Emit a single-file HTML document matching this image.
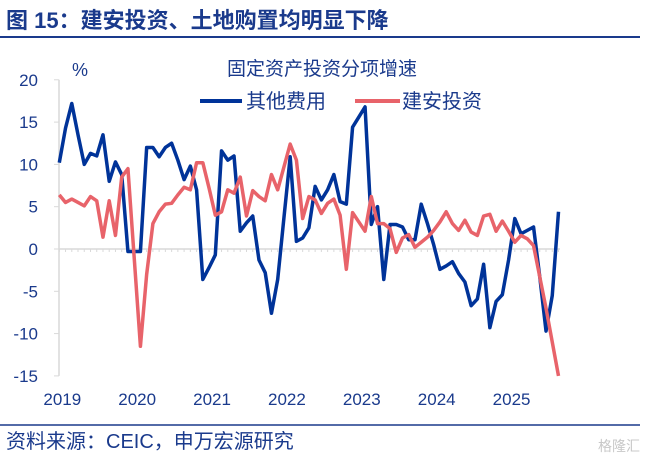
<!DOCTYPE html>
<html><head><meta charset="utf-8"><style>
body{margin:0;width:652px;height:463px;background:#fff;overflow:hidden;font-family:"Liberation Sans","Noto Sans CJK SC",sans-serif}
</style></head><body>
<svg width="652" height="463" style="font-family:'Liberation Sans','Noto Sans CJK SC',sans-serif">
<text x="6" y="28" font-size="22" font-weight="bold" fill="#1a3a8c">图 15：建安投资、土地购置均明显下降</text>
<line x1="0" y1="37" x2="640" y2="37" stroke="#1a3a8c" stroke-width="2"/>
<text x="322" y="75" font-size="19" fill="#1a3a8c" text-anchor="middle">固定资产投资分项增速</text>
<text x="80" y="76" font-size="18" fill="#1a3a8c" text-anchor="middle">%</text>
<g>
<line x1="200" y1="101" x2="242" y2="101" stroke="#003399" stroke-width="4"/>
<text x="246" y="108" font-size="20" fill="#1a3a8c">其他费用</text>
<line x1="355" y1="101" x2="400" y2="101" stroke="#e8636a" stroke-width="4"/>
<text x="402" y="108" font-size="20" fill="#1a3a8c">建安投资</text>
</g>
<g id="axes"></g>
<g id="series"></g>
<line x1="0" y1="425" x2="640" y2="425" stroke="#1a3a8c" stroke-width="1.5"/>
<text x="6" y="448" font-size="20" fill="#1a3a8c">资料来源：CEIC，申万宏源研究</text>
<text x="598" y="451" font-size="14" fill="#c8c8c8">格隆汇</text>
</svg>
<script>
const yTicks=[20,15,10,5,0,-5,-10,-15];
const years=["2019","2020","2021","2022","2023","2024","2025"];
const otherCost=[10.2,14.3,17.2,13.5,10.0,11.3,11.0,13.5,8.0,10.3,8.8,-0.3,-0.3,-0.3,12.0,12.0,10.9,12.0,12.5,10.5,8.2,9.8,7.0,-3.6,-2.2,-0.7,11.6,10.5,11.0,2.1,3.1,3.9,-1.3,-2.8,-7.6,-3.6,3.7,10.9,0.9,1.3,2.5,7.4,5.8,7.0,8.8,5.6,5.3,14.4,15.6,16.8,2.9,5.0,-3.6,2.9,2.9,2.6,1.1,1.1,5.3,3.0,0.5,-2.4,-2.0,-1.5,-2.9,-3.9,-6.7,-5.9,-1.8,-9.3,-6.2,-5.4,-1.3,3.6,1.8,2.2,2.6,-3.3,-9.7,-5.5,4.4];
const construction=[6.4,5.5,5.9,5.5,5.1,6.2,5.7,1.4,5.7,1.6,8.5,9.5,-1.0,-11.5,-3.0,3.0,4.4,5.3,5.4,6.4,7.3,7.0,10.2,10.2,7.2,4.0,4.4,7.0,6.6,8.5,3.9,6.9,6.2,5.7,8.8,7.0,9.7,12.4,10.5,3.6,6.2,5.8,4.2,5.4,5.9,4.0,-2.4,4.3,3.2,2.1,6.2,3.0,3.0,2.4,-0.4,1.3,1.7,0.2,0.8,1.4,2.2,3.2,4.4,3.0,2.2,3.4,2.0,1.6,3.9,4.1,2.1,3.3,2.1,0.8,1.6,1.2,0.4,-3.3,-7.0,-11.0,-15.0];
const NS="http://www.w3.org/2000/svg";
const y=v=>249-v*8.46;
const x=i=>59.3+i*6.24;
const axes=document.getElementById('axes'),series=document.getElementById('series');
function mk(t,a,p){const e=document.createElementNS(NS,t);for(const k in a)e.setAttribute(k,a[k]);p.appendChild(e);return e;}
const ax=mk('line',{x1:59,y1:y(20),x2:59,y2:y(-15),stroke:'#d9d9d9','stroke-width':1.5},axes);


const zl=mk('line',{x1:59,y1:y(0),x2:560,y2:y(0),stroke:'#d9d9d9','stroke-width':1.5},axes);


for(let i=0;i<81;i++){const t=mk('line',{x1:x(i),y1:y(0),x2:x(i),y2:y(0)+3,stroke:'#d9d9d9'},axes);

}
yTicks.forEach(v=>{const t=mk('line',{x1:54,y1:y(v),x2:59,y2:y(v),stroke:'#d9d9d9'},axes);


const l=mk('text',{x:38,y:y(v)+6,'font-size':17,fill:'#1a3a8c','text-anchor':'end'},axes);l.textContent=v;

});
years.forEach((yr,k)=>{const l=mk('text',{x:x(k*12)+3,y:405,'font-size':17,fill:'#1a3a8c','text-anchor':'middle'},axes);l.textContent=yr;

});
function line(d,c,n){const p=mk('polyline',{points:d.map((v,i)=>x(i)+','+y(v)).join(' '),fill:'none',stroke:c,'stroke-width':3.5,'stroke-linejoin':'round'},series);

}
line(otherCost,'#003399','line-other-cost');
line(construction,'#e8636a','line-construction');
</script>
</body></html>
